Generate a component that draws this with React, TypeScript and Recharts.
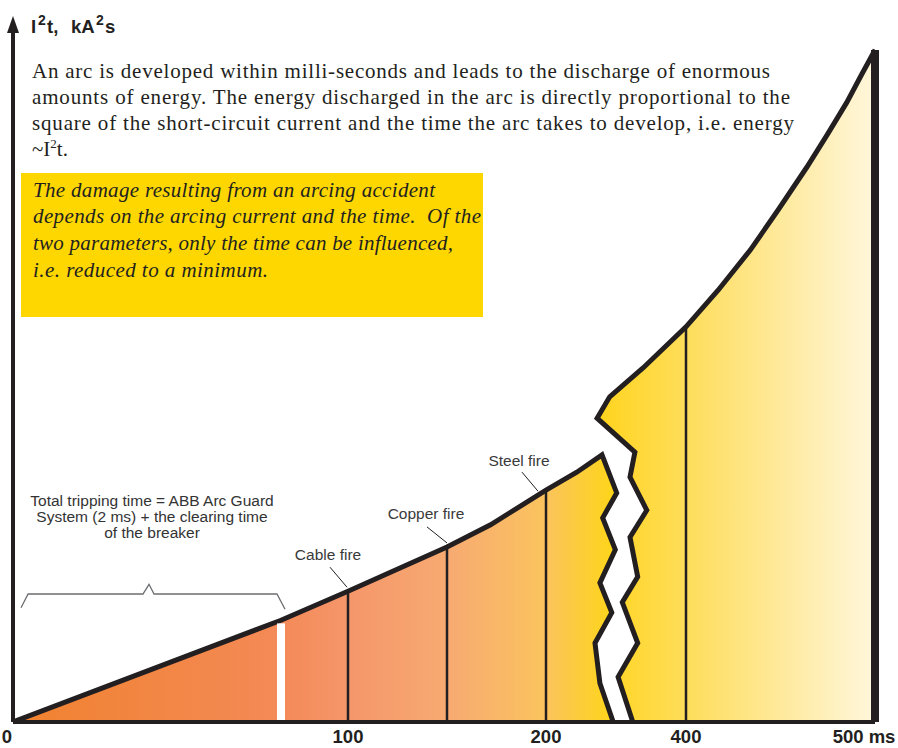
import React from 'react';
import { ComposedChart, Area, Line, XAxis, YAxis, ReferenceLine, ReferenceDot } from 'recharts';

// broken time axis: ms -> position on the axis
const AXIS_MS = [0, 100, 200, 400, 500];
const AXIS_POS = [0, 335, 533, 673, 862];
const AXIS_LABELS = ['0', '100', '200', '400', '500 ms'];

const brk = (ms: number) => {
  for (let i = 1; i < AXIS_MS.length; i++) {
    if (ms <= AXIS_MS[i]) {
      const t = (ms - AXIS_MS[i - 1]) / (AXIS_MS[i] - AXIS_MS[i - 1]);
      return AXIS_POS[i - 1] + t * (AXIS_POS[i] - AXIS_POS[i - 1]);
    }
  }
  return AXIS_POS[AXIS_POS.length - 1];
};

// left part of the curve, ending in the zigzag break
const LEFT_MS = [0, 80, 100, 150, 172, 200, 244, 280, 301, 281, 299, 277, 294, 270, 277, 296];
const LEFT_I2T = [0, 14.7, 18.9, 25.3, 28.5, 33.5, 36.1, 38.6, 33.1, 29.5, 24.9, 20.1, 15.8, 11.4, 5.6, 0];

// right part, starting from the zigzag break
const RIGHT_MS = [324, 303, 331, 309, 331, 320, 344, 320, 327, 273, 291, 339, 400, 417, 434, 449, 464, 475, 485, 493, 500, 500];
const RIGHT_I2T = [0, 6.5, 11.4, 17.3, 21.0, 26.7, 30.6, 35.4, 39.0, 43.9, 47.0, 51.2, 57.1, 62.4, 68.2, 74.1, 80.2, 85.0, 89.5, 93.6, 97.1, 0];

const FIRE_MS = [100, 150, 200];
const FIRE_LABELS = ['Cable fire', 'Copper fire', 'Steel fire'];
const DIVIDER_MS = [100, 150, 200, 400];
const GAP_MS = 80;

// bracket over the tripping time
const BRACKET_MS = [2.4, 4.5, 38.8, 40.6, 42.1, 78.8, 81.2];
const BRACKET_I2T = [16.5, 18.5, 18.5, 19.9, 18.5, 18.5, 16.3];

const LEFT = LEFT_MS.map((ms, i) => ({ x: brk(ms), y: LEFT_I2T[i] }));
const RIGHT = RIGHT_MS.map((ms, i) => ({ x: brk(ms), y: RIGHT_I2T[i] }));
const BRACKET = BRACKET_MS.map((ms, i) => ({ x: brk(ms), y: BRACKET_I2T[i] }));

const i2tAt = (ms: number) => {
  const i = LEFT_MS.indexOf(ms);
  if (i >= 0) return LEFT_I2T[i];
  return RIGHT_I2T[RIGHT_MS.indexOf(ms)];
};

const INK = '#231f20';
const SANS = "'Liberation Sans', Arial, sans-serif";
const SERIF = "'Liberation Serif', 'Times New Roman', serif";

// leader line + label placement relative to the curve point
const LEADERS = [
  { x1: -18, y1: -24, x2: -1, y2: -4, tx: -20, ty: -31 },
  { x1: -20, y1: -20, x2: 0, y2: -4, tx: -21, ty: -28 },
  { x1: -24, y1: -18, x2: -8, y2: 1, tx: -27, ty: -24 },
];

const AxisTick = (props: any) => {
  const { x, y, payload } = props;
  const i = AXIS_POS.findIndex((p) => Math.abs(p - payload.value) < 0.01);
  const dx = i === 0 ? -6 : i === AXIS_POS.length - 1 ? -11 : 0;
  return (
    <text x={x + dx} y={y + 13} textAnchor="middle" fontFamily={SANS} fontWeight="bold" fontSize={18.5} fill={INK}>
      {AXIS_LABELS[i]}
    </text>
  );
};

export default function App() {
  return (
    <div style={{ position: 'absolute', left: 0, top: 0, width: 898, height: 748, background: '#fff' }}>
      <ComposedChart width={898} height={748} margin={{ top: 30, right: 23, left: 13, bottom: 0 }}>
        <defs>
          <linearGradient id="leftGrad" x1="0" y1="0" x2="1" y2="0">
            <stop offset="0" stopColor="#F0822E" />
            <stop offset="0.45" stopColor="#F48A58" />
            <stop offset="0.55" stopColor="#F5966A" />
            <stop offset="0.72" stopColor="#F7AA72" />
            <stop offset="0.88" stopColor="#FBC35E" />
            <stop offset="1" stopColor="#FFD616" />
          </linearGradient>
          <linearGradient id="rightGrad" x1="0" y1="0" x2="1" y2="0">
            <stop offset="0" stopColor="#FFD41C" />
            <stop offset="0.32" stopColor="#FEDD5A" />
            <stop offset="0.65" stopColor="#FEE99A" />
            <stop offset="1" stopColor="#FFF7DC" />
          </linearGradient>
        </defs>
        <XAxis
          type="number"
          dataKey="x"
          domain={[0, 862]}
          allowDataOverflow
          ticks={AXIS_MS.map(brk)}
          interval={0}
          height={26}
          tickLine={false}
          axisLine={{ stroke: INK, strokeWidth: 4 }}
          tick={<AxisTick />}
        />
        <YAxis type="number" domain={[0, 100]} width={0} tick={false} tickLine={false} axisLine={false} />
        <Area data={LEFT} dataKey="y" type="linear" stroke={INK} strokeWidth={5} fill="url(#leftGrad)" fillOpacity={1} isAnimationActive={false} dot={false} activeDot={false} />
        <Area data={RIGHT} dataKey="y" type="linear" stroke={INK} strokeWidth={5} fill="url(#rightGrad)" fillOpacity={1} isAnimationActive={false} dot={false} activeDot={false} />
        <ReferenceLine
          segment={[{ x: brk(GAP_MS), y: 0 }, { x: brk(GAP_MS), y: i2tAt(GAP_MS) - 0.45 }]}
          stroke="#ffffff"
          strokeWidth={8}
        />
        {DIVIDER_MS.map((ms) => (
          <ReferenceLine key={ms} segment={[{ x: brk(ms), y: 0 }, { x: brk(ms), y: i2tAt(ms) }]} stroke={INK} strokeWidth={2.5} />
        ))}
        <ReferenceLine segment={[{ x: brk(500), y: 0 }, { x: brk(500), y: i2tAt(500) }]} stroke={INK} strokeWidth={8} />
        {/* vertical I2t axis */}
        <ReferenceLine segment={[{ x: 0, y: 0 }, { x: 0, y: 100 }]} stroke={INK} strokeWidth={4} />
        <Line data={BRACKET} dataKey="y" type="linear" stroke="#6d6e71" strokeWidth={1.3} dot={false} activeDot={false} isAnimationActive={false} />
        {FIRE_MS.map((ms, i) => (
          <ReferenceDot
            key={ms}
            x={brk(ms)}
            y={i2tAt(ms)}
            shape={(p: any) => {
              const o = LEADERS[i];
              return (
                <g>
                  <line x1={p.cx + o.x1} y1={p.cy + o.y1} x2={p.cx + o.x2} y2={p.cy + o.y2} stroke={INK} strokeWidth={1} />
                  <text x={p.cx + o.tx} y={p.cy + o.ty} textAnchor="middle" fontFamily={SANS} fontSize={15.5} fill="#3a3a3a">
                    {FIRE_LABELS[i]}
                  </text>
                </g>
              );
            }}
          />
        ))}
        <ReferenceDot
          x={0}
          y={100}
          shape={(p: any) => <polygon points={`${p.cx},${p.cy - 14} ${p.cx - 6},${p.cy + 3} ${p.cx + 6},${p.cy + 3}`} fill={INK} />}
        />
      </ComposedChart>
      <svg width={898} height={748} style={{ position: 'absolute', left: 0, top: 0, pointerEvents: 'none' }}>
        <text fontFamily={SANS} fontWeight="bold" fontSize={18.5} fill={INK}>
          <tspan x={31} y={33}>I</tspan>
          <tspan x={38} y={25} fontSize={14}>2</tspan>
          <tspan x={47} y={33}>t,</tspan>
          <tspan x={71} y={33}>kA</tspan>
          <tspan x={96} y={25} fontSize={14}>2</tspan>
          <tspan x={105} y={33}>s</tspan>
        </text>
        <g fontFamily={SERIF} fontSize={21} fill={INK}>
          <text x={32} y={78} textLength={738} lengthAdjust="spacing">An arc is developed within milli-seconds and leads to the discharge of enormous</text>
          <text x={32} y={104} textLength={758} lengthAdjust="spacing">amounts of energy. The energy discharged in the arc is directly proportional to the</text>
          <text x={32} y={130} textLength={762} lengthAdjust="spacing">square of the short-circuit current and the time the arc takes to develop, i.e. energy</text>
          <text x={32} y={156}>
            ~I<tspan fontSize={13} dy={-8}>2</tspan>
            <tspan dy={8}>t.</tspan>
          </text>
        </g>
        <rect x={21} y={173} width={462} height={144} fill="#FED700" />
        <g fontFamily={SERIF} fontStyle="italic" fontSize={21} fill={INK}>
          <text x={33} y={197} textLength={402} lengthAdjust="spacing">The damage resulting from an arcing accident</text>
          <text x={33} y={223} textLength={448} lengthAdjust="spacing">{'depends on the arcing current and the time.\u00a0 Of the'}</text>
          <text x={33} y={250} textLength={420} lengthAdjust="spacing">two parameters, only the time can be influenced,</text>
          <text x={33} y={277} textLength={235} lengthAdjust="spacing">i.e. reduced to a minimum.</text>
        </g>
        <g fontFamily={SANS} fontSize={15.5} fill="#333" textAnchor="middle">
          <text x={152} y={506}>Total tripping time = ABB Arc Guard</text>
          <text x={152} y={522}>System (2 ms) + the clearing time</text>
          <text x={152} y={538}>of the breaker</text>
        </g>
      </svg>
    </div>
  );
}
